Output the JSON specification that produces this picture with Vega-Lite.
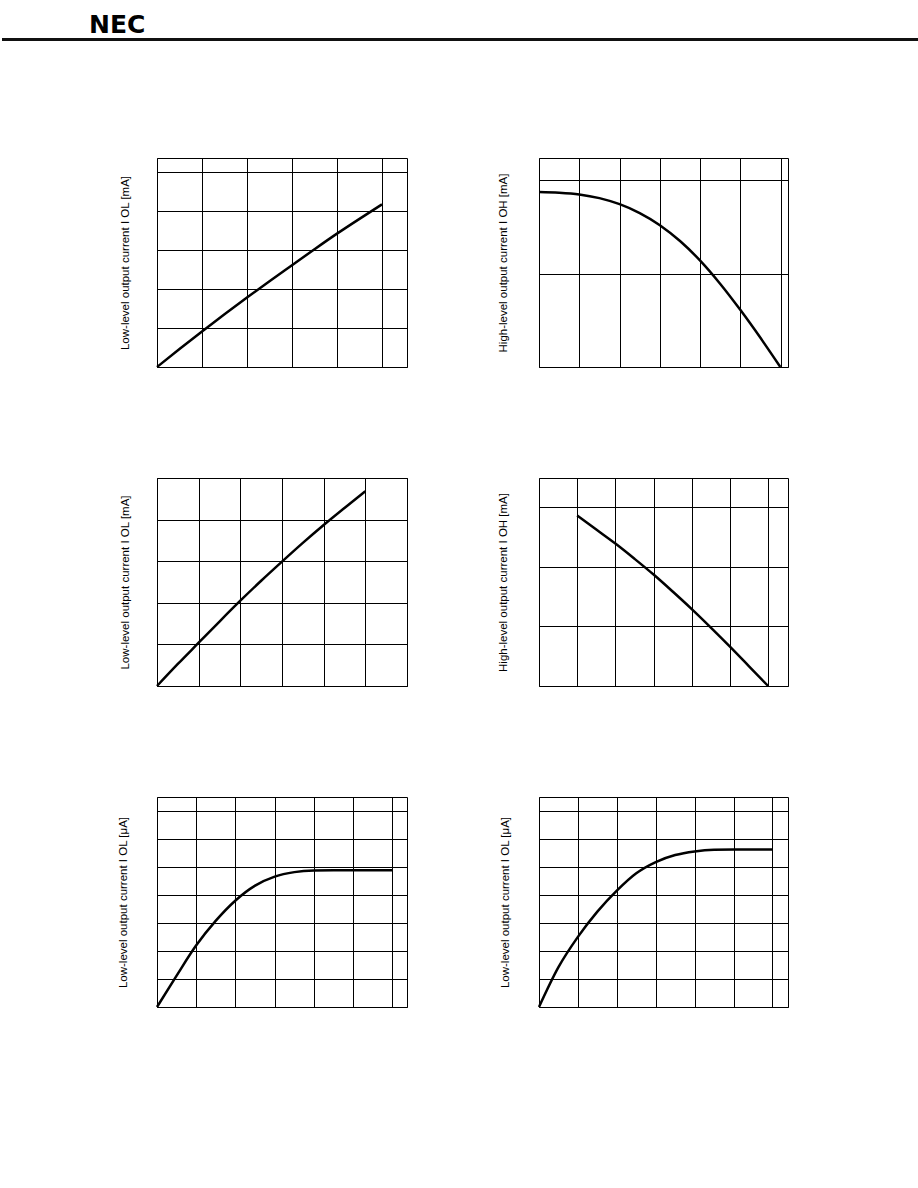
{
  "$schema": "https://vega.github.io/schema/vega-lite/v6.json",
  "padding": 0,
  "background": "white",
  "spacing": 104,
  "config": {
    "view": {"stroke": "black", "strokeWidth": 1},
    "axis": {
      "grid": true, "gridColor": "black", "gridOpacity": 1, "gridWidth": 1,
      "labels": false, "ticks": false, "domain": false,
      "titleFont": "Liberation Sans", "titleFontWeight": "normal", "titleFontSize": 11.5, "titleColor": "black"
    },
    "line": {"stroke": "black", "strokeWidth": 2.5, "interpolate": "monotone"}
  },
  "datasets": {
    "c1": [{"x":0,"y":0},{"x":0.5,"y":0.46},{"x":1,"y":0.91},{"x":1.5,"y":1.35},{"x":2,"y":1.78},{"x":2.5,"y":2.2},{"x":3,"y":2.61},{"x":3.5,"y":3.02},{"x":4,"y":3.42},{"x":4.5,"y":3.8},{"x":5,"y":4.17}],
    "c2": [{"x":0,"y":1.875},{"x":0.5,"y":1.868},{"x":1,"y":1.85},{"x":1.5,"y":1.81},{"x":2,"y":1.745},{"x":2.5,"y":1.65},{"x":3,"y":1.52},{"x":3.5,"y":1.35},{"x":4,"y":1.14},{"x":4.5,"y":0.89},{"x":5,"y":0.61},{"x":5.5,"y":0.31},{"x":5.99,"y":0}],
    "c3": [{"x":0,"y":0},{"x":0.5,"y":0.53},{"x":1,"y":1.04},{"x":1.5,"y":1.55},{"x":2,"y":2.05},{"x":2.5,"y":2.53},{"x":3,"y":2.99},{"x":3.5,"y":3.44},{"x":4,"y":3.87},{"x":4.5,"y":4.28},{"x":5,"y":4.68}],
    "c4": [{"x":1,"y":2.86},{"x":1.5,"y":2.625},{"x":2,"y":2.39},{"x":2.5,"y":2.135},{"x":3,"y":1.87},{"x":3.5,"y":1.585},{"x":4,"y":1.29},{"x":4.5,"y":0.98},{"x":5,"y":0.66},{"x":5.5,"y":0.33},{"x":6,"y":0}],
    "c5": [{"x":0,"y":0},{"x":0.5,"y":1.12},{"x":1,"y":2.2},{"x":1.5,"y":3.08},{"x":2,"y":3.8},{"x":2.5,"y":4.33},{"x":3,"y":4.65},{"x":3.5,"y":4.81},{"x":4,"y":4.87},{"x":4.5,"y":4.88},{"x":5,"y":4.88},{"x":6,"y":4.88}],
    "c6": [{"x":0,"y":0},{"x":0.5,"y":1.42},{"x":1,"y":2.5},{"x":1.5,"y":3.4},{"x":2,"y":4.15},{"x":2.5,"y":4.77},{"x":3,"y":5.17},{"x":3.5,"y":5.42},{"x":4,"y":5.55},{"x":4.5,"y":5.61},{"x":5,"y":5.62},{"x":6,"y":5.62}]
  },
  "vconcat": [
    {
      "width": 918, "height": 52.8,
      "view": {"stroke": null},
      "data": {"values": [{"brand": "NEC"}]},
      "layer": [
        {"mark": {"type": "rule", "stroke": "#111", "strokeWidth": 3},
         "encoding": {"y": {"datum": 13.3, "type": "quantitative", "scale": {"domain": [0, 52.8], "nice": false}, "axis": null}}},
        {"mark": {"type": "text", "font": "DejaVu Sans", "fontSize": 25, "fontWeight": "bold", "align": "left", "baseline": "alphabetic", "color": "black"},
         "encoding": {
           "text": {"field": "brand"},
           "x": {"datum": 87, "type": "quantitative", "scale": {"domain": [0, 918], "nice": false}, "axis": null},
           "y": {"datum": 20.1, "type": "quantitative", "scale": {"domain": [0, 52.8], "nice": false}, "axis": null}}}
      ]
    },
    {
      "spacing": 88,
      "hconcat": [
        {"width": 28, "height": 10, "view": {"stroke": null}, "data": {"values": [{}]}, "mark": {"type": "text", "text": ""}, "encoding": {}},
        {"width": 250, "height": 209, "data": {"name": "c1"}, "mark": "line",
         "encoding": {
           "x": {"field": "x", "type": "quantitative", "scale": {"domain": [0, 5.556], "nice": false, "zero": false}, "axis": {"values": [0,1,2,3,4,5], "title": null}},
           "y": {"field": "y", "type": "quantitative", "scale": {"domain": [0, 5.36], "nice": false, "zero": false}, "axis": {"values": [0,1,2,3,4,5], "title": "Low-level output current I OL [mA]", "titlePadding": 27}}}},
        {"width": 249, "height": 209, "data": {"name": "c2"}, "mark": "line",
         "encoding": {
           "x": {"field": "x", "type": "quantitative", "scale": {"domain": [0, 6.18], "nice": false, "zero": false}, "axis": {"values": [0,1,2,3,4,5,6], "title": null}},
           "y": {"field": "y", "type": "quantitative", "scale": {"domain": [0, 2.24], "nice": false, "zero": false}, "axis": {"values": [0,1,2], "title": "High-level output current I OH [mA]", "titlePadding": 31}}}}
      ]
    },
    {
      "spacing": 88,
      "hconcat": [
        {"width": 28, "height": 10, "view": {"stroke": null}, "data": {"values": [{}]}, "mark": {"type": "text", "text": ""}, "encoding": {}},
        {"width": 250, "height": 208, "data": {"name": "c3"}, "mark": "line",
         "encoding": {
           "x": {"field": "x", "type": "quantitative", "scale": {"domain": [0, 6], "nice": false, "zero": false}, "axis": {"values": [0,1,2,3,4,5,6], "title": null}},
           "y": {"field": "y", "type": "quantitative", "scale": {"domain": [0, 5], "nice": false, "zero": false}, "axis": {"values": [0,1,2,3,4,5], "title": "Low-level output current I OL [mA]", "titlePadding": 27}}}},
        {"width": 249, "height": 208, "data": {"name": "c4"}, "mark": "line",
         "encoding": {
           "x": {"field": "x", "type": "quantitative", "scale": {"domain": [0, 6.52], "nice": false, "zero": false}, "axis": {"values": [0,1,2,3,4,5,6], "title": null}},
           "y": {"field": "y", "type": "quantitative", "scale": {"domain": [0, 3.49], "nice": false, "zero": false}, "axis": {"values": [0,1,2,3], "title": "High-level output current I OH [mA]", "titlePadding": 31}}}}
      ]
    },
    {
      "spacing": 90,
      "hconcat": [
        {"width": 24, "height": 10, "view": {"stroke": null}, "data": {"values": [{}]}, "mark": {"type": "text", "text": ""}, "encoding": {}},
        {"width": 250, "height": 210, "data": {"name": "c5"}, "mark": "line",
         "encoding": {
           "x": {"field": "x", "type": "quantitative", "scale": {"domain": [0, 6.37], "nice": false, "zero": false}, "axis": {"values": [0,1,2,3,4,5,6], "title": null}},
           "y": {"field": "y", "type": "quantitative", "scale": {"domain": [0, 7.49], "nice": false, "zero": false}, "axis": {"values": [0,1,2,3,4,5,6,7], "title": "Low-level output current I OL [μA]", "titlePadding": 29}}}},
        {"width": 249, "height": 210, "data": {"name": "c6"}, "mark": "line",
         "encoding": {
           "x": {"field": "x", "type": "quantitative", "scale": {"domain": [0, 6.4], "nice": false, "zero": false}, "axis": {"values": [0,1,2,3,4,5,6], "title": null}},
           "y": {"field": "y", "type": "quantitative", "scale": {"domain": [0, 7.49], "nice": false, "zero": false}, "axis": {"values": [0,1,2,3,4,5,6,7], "title": "Low-level output current I OL [μA]", "titlePadding": 29}}}}
      ]
    }
  ]
}
